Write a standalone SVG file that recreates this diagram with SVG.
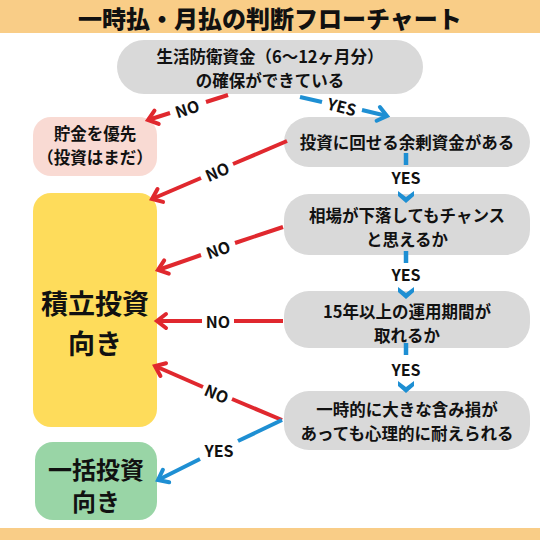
<svg xmlns="http://www.w3.org/2000/svg" width="540" height="540" viewBox="0 0 540 540">
<style>
text{font-family:"Noto Sans CJK JP","Noto Sans",sans-serif;font-weight:700;fill:#111;text-anchor:middle;dominant-baseline:central}
.title{font-size:24px;font-weight:900}
.nt{font-size:16.5px}
.big{font-size:27px}
.mid{font-size:24px}
.lbl{font-size:16px}
.gray{fill:#D9D9D9}
.red{stroke:#E0282E;stroke-width:4;fill:none}
.blue{stroke:#1E8FD3;stroke-width:4;fill:none}
.dash{stroke:#1E8FD3;stroke-width:4.5}
.chev{fill:#1E8FD3}
</style>
<defs>
<marker id="ar" markerUnits="userSpaceOnUse" orient="auto" overflow="visible" markerWidth="1" markerHeight="1">
<path d="M-9,-7 L0,0 L-9,7" fill="none" stroke="#E0282E" stroke-width="4" stroke-linejoin="miter" stroke-linecap="round"/>
</marker>
<marker id="ab" markerUnits="userSpaceOnUse" orient="auto" overflow="visible" markerWidth="1" markerHeight="1">
<path d="M-9,-7 L0,0 L-9,7" fill="none" stroke="#1E8FD3" stroke-width="4" stroke-linejoin="miter" stroke-linecap="round"/>
</marker>
</defs>
<rect x="0" y="0" width="540" height="33" fill="#F9CD87"/>
<rect x="0" y="528" width="540" height="12" fill="#F9CD87"/>
<text class="title" x="270" y="17">一時払・月払の判断フローチャート</text>

<g id="q1"><rect class="gray" x="117" y="40" width="306" height="54" rx="27"/>
<text class="nt" x="270" y="56">生活防衛資金（6〜12ヶ月分）</text>
<text class="nt" x="270" y="80">の確保ができている</text></g>

<g id="save"><rect x="33" y="117" width="124" height="59" rx="18" fill="#F9DAD3"/>
<text class="nt" x="95" y="133">貯金を優先</text>
<text class="nt" x="95" y="157">（投資はまだ）</text></g>

<g id="q2"><rect class="gray" x="284" y="117" width="246" height="50" rx="25"/>
<text class="nt" x="407" y="142">投資に回せる余剰資金がある</text></g>

<g id="q3"><rect class="gray" x="284" y="194" width="246" height="61" rx="25"/>
<text class="nt" x="407" y="215">相場が下落してもチャンス</text>
<text class="nt" x="407" y="239">と思えるか</text></g>

<g id="q4"><rect class="gray" x="284" y="291" width="246" height="57" rx="25"/>
<text class="nt" x="407" y="311">15年以上の運用期間が</text>
<text class="nt" x="407" y="335">取れるか</text></g>

<g id="q5"><rect class="gray" x="284" y="391" width="246" height="59" rx="25"/>
<text class="nt" x="407" y="409">一時的に大きな含み損が</text>
<text class="nt" x="407" y="433">あっても心理的に耐えられる</text></g>

<g id="tsumitate"><rect x="33" y="193" width="124" height="234" rx="18" fill="#FEDC5B"/>
<text class="big" x="95" y="302">積立投資</text>
<text class="big" x="95" y="342">向き</text></g>

<g id="ikkatsu"><rect x="35" y="442" width="122" height="78" rx="18" fill="#99D5A6"/>
<text class="mid" x="96" y="468">一括投資</text>
<text class="mid" x="96" y="500">向き</text></g>

<g id="connectors">
<line class="red" x1="228" y1="95" x2="206" y2="102"/>
<line class="red" x1="170" y1="113" x2="148" y2="120" marker-end="url(#ar)"/>
<text class="lbl" transform="translate(187,108) rotate(-18)">NO</text>

<line class="blue" x1="300" y1="97" x2="322" y2="102"/>
<line class="blue" x1="362" y1="110" x2="387" y2="116" marker-end="url(#ab)"/>
<text class="lbl" transform="translate(342,106) rotate(14)">YES</text>

<line class="red" x1="287" y1="141" x2="233" y2="164"/>
<line class="red" x1="201" y1="178" x2="152" y2="199" marker-end="url(#ar)"/>
<text class="lbl" transform="translate(217,171) rotate(-23)">NO</text>

<line class="red" x1="283" y1="227" x2="235" y2="243"/>
<line class="red" x1="201" y1="255" x2="158" y2="270" marker-end="url(#ar)"/>
<text class="lbl" transform="translate(218,249) rotate(-19)">NO</text>

<line class="red" x1="283" y1="321" x2="234" y2="321"/>
<line class="red" x1="202" y1="321" x2="157" y2="321" marker-end="url(#ar)"/>
<text class="lbl" x="218" y="321">NO</text>

<line class="red" x1="282" y1="420" x2="232" y2="399"/>
<line class="red" x1="203" y1="387" x2="155" y2="366" marker-end="url(#ar)"/>
<text class="lbl" transform="translate(217,393) rotate(23)">NO</text>

<line class="blue" x1="282" y1="420" x2="238" y2="441"/>
<line class="blue" x1="200" y1="459" x2="158" y2="480" marker-end="url(#ab)"/>
<text class="lbl" x="219" y="450">YES</text>

<line class="dash" x1="406" y1="153" x2="406" y2="165"/>
<text class="lbl" x="406" y="177">YES</text>
<path class="chev" d="M398,191 L406,197 L414,191 L414,196 L406,203 L398,196 Z"/>

<line class="dash" x1="406" y1="251" x2="406" y2="263"/>
<text class="lbl" x="406" y="274">YES</text>
<path class="chev" d="M398,287 L406,293 L414,287 L414,292 L406,299 L398,292 Z"/>

<line class="dash" x1="406" y1="343" x2="406" y2="355"/>
<text class="lbl" x="406" y="369">YES</text>
<path class="chev" d="M398,381 L406,387 L414,381 L414,386 L406,393 L398,386 Z"/>
</g>
</svg>
